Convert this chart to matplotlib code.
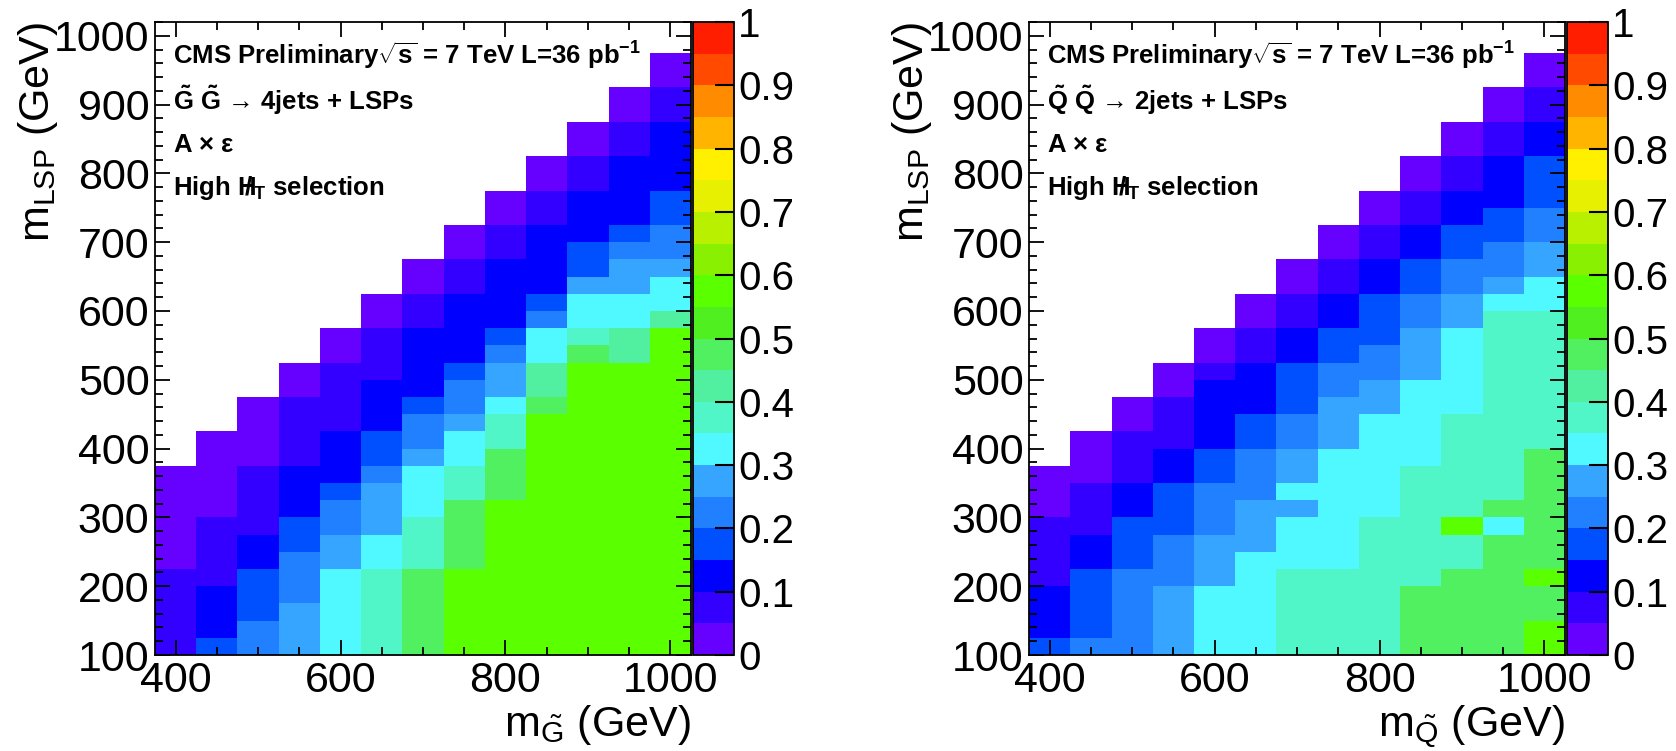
import numpy as np
import matplotlib
matplotlib.use('Agg')
import matplotlib.pyplot as plt
from matplotlib.colors import ListedColormap, BoundaryNorm
from matplotlib.ticker import MultipleLocator

plt.rcParams['font.family'] = ['Liberation Sans', 'DejaVu Sans']
plt.rcParams['mathtext.fontset'] = 'custom'
plt.rcParams['mathtext.rm'] = 'Liberation Sans'
plt.rcParams['mathtext.it'] = 'Liberation Sans:italic'
plt.rcParams['mathtext.bf'] = 'Liberation Sans:bold'
plt.rcParams['mathtext.default'] = 'regular'

# parent mass columns (GeV), m_LSP cells are 25 GeV tall starting at 100
m_parent = [400, 450, 500, 550, 600, 650, 700, 750, 800, 850, 900, 950, 1000]

# A x eff read per column, bottom-up: (value, upper m_LSP edge of that run)
gluino_eff = [
    [(0.08, 225), (0.03, 375)],
    [(0.18, 125), (0.13, 200), (0.08, 300), (0.03, 425)],
    [(0.23, 150), (0.18, 225), (0.13, 275), (0.08, 375), (0.03, 475)],
    [(0.28, 175), (0.23, 250), (0.18, 300), (0.13, 375), (0.08, 475), (0.03, 525)],
    [(0.33, 225), (0.28, 275), (0.23, 325), (0.18, 350), (0.13, 425), (0.08, 525), (0.03, 575)],
    [(0.38, 225), (0.33, 275), (0.28, 350), (0.23, 375), (0.18, 425), (0.13, 500), (0.08, 575), (0.03, 625)],
    [(0.48, 225), (0.38, 300), (0.33, 375), (0.28, 400), (0.23, 450), (0.18, 475), (0.13, 575), (0.08, 625), (0.03, 675)],
    [(0.58, 225), (0.48, 325), (0.38, 375), (0.33, 425), (0.28, 450), (0.23, 500), (0.18, 525), (0.13, 625), (0.08, 675), (0.03, 725)],
    [(0.58, 325), (0.48, 400), (0.38, 450), (0.33, 475), (0.28, 525), (0.23, 550), (0.18, 575), (0.13, 675), (0.08, 725), (0.03, 775)],
    [(0.58, 450), (0.48, 475), (0.43, 525), (0.33, 575), (0.23, 600), (0.18, 625), (0.13, 725), (0.08, 775), (0.03, 825)],
    [(0.58, 525), (0.48, 550), (0.38, 575), (0.33, 625), (0.28, 650), (0.18, 700), (0.13, 775), (0.08, 825), (0.03, 875)],
    [(0.58, 525), (0.43, 575), (0.33, 625), (0.28, 675), (0.23, 700), (0.18, 725), (0.13, 825), (0.08, 875), (0.03, 925)],
    [(0.58, 575), (0.43, 600), (0.33, 650), (0.28, 675), (0.23, 725), (0.18, 775), (0.13, 875), (0.08, 925), (0.03, 975)],
]

squark_eff = [
    [(0.18, 125), (0.13, 200), (0.08, 300), (0.03, 375)],
    [(0.23, 125), (0.18, 225), (0.13, 275), (0.08, 350), (0.03, 425)],
    [(0.23, 225), (0.18, 300), (0.13, 350), (0.08, 425), (0.03, 475)],
    [(0.28, 200), (0.23, 275), (0.18, 350), (0.13, 400), (0.08, 475), (0.03, 525)],
    [(0.33, 200), (0.28, 275), (0.23, 350), (0.18, 400), (0.13, 500), (0.08, 525), (0.03, 575)],
    [(0.33, 250), (0.28, 325), (0.23, 400), (0.18, 450), (0.13, 525), (0.08, 575), (0.03, 625)],
    [(0.38, 225), (0.33, 300), (0.28, 325), (0.33, 350), (0.28, 400), (0.23, 450), (0.18, 525), (0.13, 575), (0.08, 625), (0.03, 675)],
    [(0.38, 225), (0.33, 400), (0.28, 475), (0.23, 525), (0.18, 575), (0.13, 625), (0.08, 675), (0.03, 725)],
    [(0.38, 300), (0.33, 450), (0.28, 500), (0.23, 550), (0.18, 625), (0.13, 675), (0.08, 725), (0.03, 775)],
    [(0.48, 200), (0.38, 375), (0.33, 500), (0.28, 575), (0.23, 625), (0.18, 675), (0.13, 725), (0.08, 775), (0.03, 825)],
    [(0.48, 225), (0.38, 275), (0.58, 300), (0.38, 450), (0.33, 575), (0.28, 625), (0.23, 675), (0.18, 725), (0.13, 775), (0.08, 825), (0.03, 875)],
    [(0.48, 275), (0.33, 300), (0.48, 325), (0.38, 600), (0.33, 625), (0.28, 650), (0.23, 700), (0.18, 750), (0.13, 825), (0.08, 875), (0.03, 925)],
    [(0.58, 150), (0.48, 200), (0.58, 225), (0.48, 400), (0.38, 600), (0.33, 650), (0.28, 700), (0.23, 750), (0.18, 825), (0.13, 875), (0.08, 925), (0.03, 975)],
]

# ROOT-like 20 level palette
palette = ['#6600ff', '#3300ff', '#0000ff', '#0050ff', '#2080ff',
           '#35a5ff', '#50f8ff', '#50f5c8', '#50f0a0', '#50f060',
           '#50f020', '#5aff00', '#88f000', '#b8f000', '#e6f000',
           '#fff000', '#ffb400', '#ff8c00', '#ff4a00', '#ff1e00']
cmap = ListedColormap(palette)
norm = BoundaryNorm(np.linspace(0, 1, 21), cmap.N)

x_edges = np.arange(375, 1026, 50)
y_edges = np.arange(100, 1001, 25)
y_cent = 0.5 * (y_edges[:-1] + y_edges[1:])


def to_grid(columns):
    z = np.full((len(y_cent), len(m_parent)), np.nan)
    for i, runs in enumerate(columns):
        lo = 100
        for val, hi in runs:
            z[(y_cent > lo) & (y_cent < hi), i] = val
            lo = hi
    return np.ma.masked_invalid(z)


fig = plt.figure(figsize=(16.76, 7.51), dpi=100)

panels = [
    (0.0925, gluino_eff, r'$\tilde{G}$ $\tilde{G}$ → 4jets + LSPs', r'm$_{\tilde{G}}$ (GeV)'),
    (0.6140, squark_eff, r'$\tilde{Q}$ $\tilde{Q}$ → 2jets + LSPs', r'm$_{\tilde{Q}}$ (GeV)'),
]

for x0, data, proc, xlab in panels:
    ax = fig.add_axes([x0, 0.1278, 0.3198, 0.8429])
    cax = fig.add_axes([x0 + 0.3210, 0.1278, 0.0245, 0.8429])
    mesh = ax.pcolormesh(x_edges, y_edges, to_grid(data), cmap=cmap, norm=norm)
    ax.set_xlim(375, 1025)
    ax.set_ylim(100, 1020)
    ax.xaxis.set_major_locator(MultipleLocator(200))
    ax.xaxis.set_minor_locator(MultipleLocator(50))
    ax.yaxis.set_major_locator(MultipleLocator(100))
    ax.yaxis.set_minor_locator(MultipleLocator(20))
    ax.tick_params(which='both', direction='in', top=True, right=True, width=1.3)
    ax.tick_params(which='major', length=11, labelsize=31, pad=4)
    ax.tick_params(which='minor', length=6)
    for s in ax.spines.values():
        s.set_linewidth(1.3)
    ax.set_xlabel(xlab, fontsize=31, loc='right', labelpad=2)
    ax.set_ylabel(r'm$_{\mathrm{LSP}}$ (GeV)', fontsize=31, loc='top')
    ax.yaxis.set_label_coords(-0.178, 1.0)

    tx = 0.034
    ax.text(tx, 0.946, r'CMS Preliminary$\sqrt{s}$ = 7 TeV L=36 pb$^{-1}$',
            transform=ax.transAxes, fontsize=18.5, fontweight='bold', va='center')
    ax.text(tx, 0.877, proc, transform=ax.transAxes, fontsize=18.5,
            fontweight='bold', va='center')
    ax.text(tx, 0.806, r'A $\times$ $\varepsilon$', transform=ax.transAxes,
            fontsize=18.5, fontweight='bold', va='center')
    ax.text(tx, 0.737, r'High $H\hspace{-0.55}/_{\hspace{0.15}T}$ selection', transform=ax.transAxes,
            fontsize=18.5, fontweight='bold', va='center')

    cb = fig.colorbar(mesh, cax=cax, ticks=np.arange(0, 1.01, 0.1))
    cb.ax.set_yticklabels(['0', '0.1', '0.2', '0.3', '0.4', '0.5', '0.6', '0.7', '0.8', '0.9', '1'])
    cb.outline.set_linewidth(1.3)
    cb.ax.tick_params(direction='in', length=14, width=1.5, labelsize=29, pad=3)
    cb.ax.minorticks_off()

fig.savefig('out.png', dpi=100, facecolor='white')
